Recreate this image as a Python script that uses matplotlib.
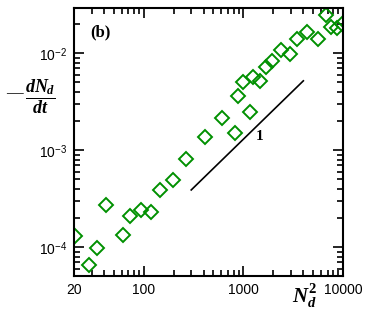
import numpy as np
import matplotlib
matplotlib.use("Agg")
import matplotlib.pyplot as plt
from matplotlib.ticker import LogLocator, FixedLocator, FuncFormatter, NullFormatter

plt.rcParams['mathtext.fontset'] = 'custom'
plt.rcParams['mathtext.it'] = 'Liberation Serif:italic:bold'
plt.rcParams['mathtext.rm'] = 'Liberation Serif:bold'
plt.rcParams['mathtext.bf'] = 'Liberation Serif:bold'

# data
n2 = [20.3, 28.5, 34, 41.9, 62, 73, 93.3, 117.5, 144.5, 195,
      267, 415, 610, 830, 883, 998, 1156, 1239, 1466, 1674,
      1951, 2366, 2915, 3475, 4375, 5560, 6685, 7560, 8690, 9680]
rate = [1.32e-4, 6.6e-5, 9.9e-5, 2.75e-4, 1.34e-4, 2.1e-4, 2.43e-4, 2.33e-4, 3.87e-4, 4.9e-4,
        8.2e-4, 1.38e-3, 2.14e-3, 1.51e-3, 3.65e-3, 5.02e-3, 2.5e-3, 5.74e-3, 5.18e-3, 7.28e-3,
        8.34e-3, 1.08e-2, 9.77e-3, 1.40e-2, 1.64e-2, 1.40e-2, 2.50e-2, 1.88e-2, 1.84e-2, 1.99e-2]

# slope-1 guide line
guide_x = [300, 4000]
guide_c = 1.3e-6

xticks = [20, 100, 1000, 10000]

fig = plt.figure(figsize=(3.66, 3.15), dpi=100)
ax = fig.add_axes([74/366, 1 - 276/315, 269/366, 268/315])

ax.plot(n2, rate, linestyle='none', marker='D', markersize=7,
        markerfacecolor='none', markeredgecolor='#009000', markeredgewidth=1.4)
gx = np.array(guide_x)
ax.plot(gx, guide_c * gx, color='black', lw=1.2)
ax.text(1470, 1.4e-3, '1', fontfamily='Liberation Serif', fontweight='bold',
        fontsize=11, ha='center', va='center')

ax.set_xscale('log')
ax.set_yscale('log')
ax.set_xlim(20, 10000)
ax.set_ylim(5.06e-5, 2.93e-2)

ax.xaxis.set_major_locator(FixedLocator(xticks))
ax.xaxis.set_major_formatter(FuncFormatter(lambda v, p: '%d' % v))
ax.xaxis.set_minor_locator(LogLocator(base=10, subs=np.arange(2, 10)))
ax.xaxis.set_minor_formatter(NullFormatter())

ax.yaxis.set_major_locator(LogLocator(base=10))
ax.yaxis.set_major_formatter(FuncFormatter(lambda v, p: '10$^{\\mathregular{%d}}$' % int(round(np.log10(v)))))
ax.yaxis.set_minor_locator(LogLocator(base=10, subs=np.arange(2, 10)))
ax.yaxis.set_minor_formatter(NullFormatter())

ax.tick_params(which='both', direction='in', top=True, right=True, width=1.2)
ax.tick_params(which='major', length=7, labelsize=10, pad=5)
ax.tick_params(which='minor', length=4)
for lab in ax.get_xticklabels() + ax.get_yticklabels():
    lab.set_fontfamily('Liberation Sans')
for s in ax.spines.values():
    s.set_linewidth(1.5)

ax.text(0.06, 0.91, '(b)', transform=ax.transAxes, fontfamily='Liberation Serif',
        fontweight='bold', fontsize=12, ha='left', va='center')

fig.text(305/366, 1 - 296/315, r'$N_d^2$', fontsize=15, ha='center', va='center')
fig.text(14/366, 1 - 93/315, '\u2014', fontsize=12, fontfamily='Liberation Serif',
         ha='center', va='center')
fig.text(40/366, 1 - 97/315, r'$\dfrac{dN_d}{dt}$', fontsize=13, ha='center', va='center')

fig.savefig('out.png', dpi=100)
